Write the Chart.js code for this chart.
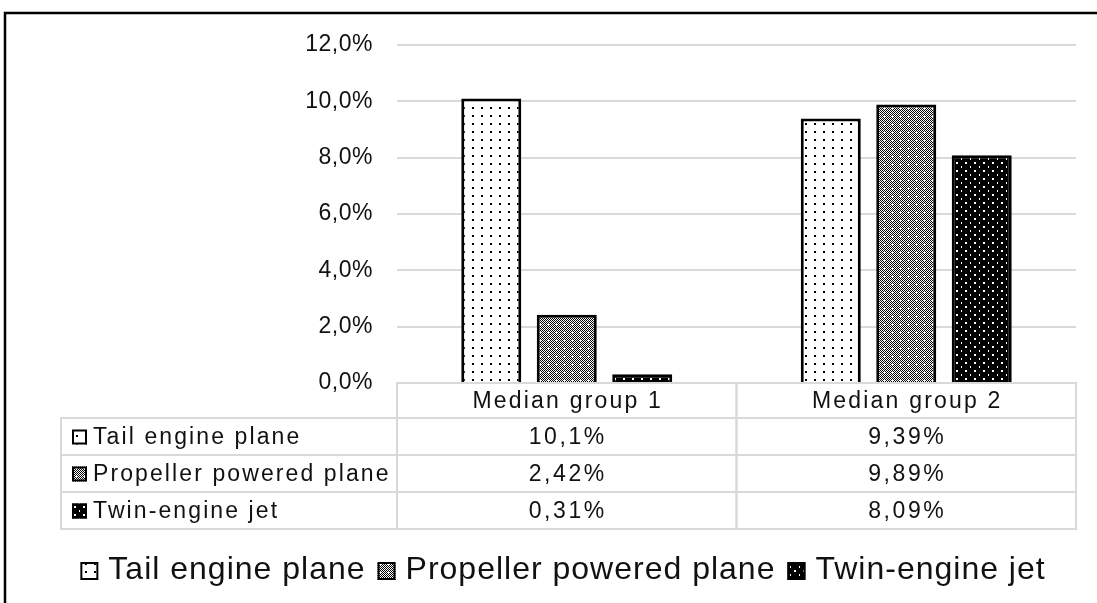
<!DOCTYPE html>
<html>
<head>
<meta charset="utf-8">
<script src="https://cdn.jsdelivr.net/npm/chart.js@4"></script>
<style>
  html, body { margin: 0; padding: 0; background: #fff; }
  canvas { display: block; }
</style>
</head>
<body>
<canvas id="chart" width="1097" height="603"></canvas>
<script>
// data
const categories = ['Median group 1', 'Median group 2'];
const seriesNames = ['Tail engine plane', 'Propeller powered plane', 'Twin-engine jet'];
const tailEngine = [10.1, 9.39];
const propeller = [2.42, 9.89];
const twinJet = [0.31, 8.09];
const yMax = 12;
const yStep = 2;

const pct = v => String(Number(v.toPrecision(3))).replace('.', ',') + '%';
const tickPct = v => v.toFixed(1).replace('.', ',') + '%';

// fill patterns, roughly like the office print patterns
function makePattern(kind) {
    const c = document.createElement('canvas');
    const g = c.getContext('2d');
    if (kind === 'dots') {
        c.width = 18; c.height = 16;
        g.fillStyle = '#fff'; g.fillRect(0, 0, 18, 16);
        g.fillStyle = '#000';
        g.fillRect(4, 3, 2, 2); g.fillRect(13, 3, 2, 2);
        g.fillRect(4, 11, 2, 2); g.fillRect(13, 11, 2, 2);
    } else if (kind === 'cross') {
        c.width = 8; c.height = 8;
        g.fillStyle = '#fff'; g.fillRect(0, 0, 8, 8);
        g.fillStyle = '#000';
        for (let y = 0; y < 8; y++) {
            for (let x = 0; x < 8; x++) {
                const d = Math.abs(x - 4) + Math.abs(y - 4);
                if (d <= 1) continue;
                if ((x + y) % 2 === 0) g.fillRect(x, y, 1, 1);
            }
        }
    } else {
        c.width = 9; c.height = 8;
        g.fillStyle = '#000'; g.fillRect(0, 0, 9, 8);
        g.fillStyle = '#fff';
        g.fillRect(2, 2, 2, 2); g.fillRect(7, 6, 1, 2);
    }
    return g.createPattern(c, 'repeat');
}

const fills = [makePattern('dots'), makePattern('cross'), makePattern('solid')];
const seriesData = [tailEngine, propeller, twinJet];

const FONT = '"Liberation Sans", Arial, sans-serif';
const TEXT = '#111';
const GRID = '#d9d9d9';

function legendBox(ctx, x, y, s, fill) {
    ctx.save();
    ctx.fillStyle = fill;
    ctx.fillRect(x, y, s, s);
    ctx.strokeStyle = '#000';
    ctx.lineWidth = 2;
    ctx.strokeRect(x + 1, y + 1, s - 2, s - 2);
    ctx.restore();
}

const tablePlugin = {
    id: 'dataTable',
    beforeDraw(chart) {
        const ctx = chart.ctx;
        ctx.save();
        ctx.fillStyle = '#fff';
        ctx.fillRect(0, 0, chart.width, chart.height);
        ctx.restore();
        ctx.letterSpacing = '0.5px';
    },
    afterDraw(chart) {
        const ctx = chart.ctx;
        const area = chart.chartArea;
        const xs = chart.scales.x;
        const half = (area.right - area.left) / categories.length / 2;
        const headTop = area.bottom;
        const headH = 35;
        const rowH = 37;
        const labelLeft = 61;

        ctx.save();
        ctx.strokeStyle = GRID;
        ctx.lineWidth = 2;

        // header cells
        categories.forEach((cat, i) => {
            const cx = xs.getPixelForTick(i);
            ctx.strokeRect(cx - half, headTop, half * 2, headH);
        });
        // data rows
        seriesNames.forEach((name, r) => {
            const top = headTop + headH + r * rowH;
            ctx.strokeRect(labelLeft, top, area.left - labelLeft, rowH);
            categories.forEach((cat, i) => {
                const cx = xs.getPixelForTick(i);
                ctx.strokeRect(cx - half, top, half * 2, rowH);
            });
        });

        ctx.fillStyle = TEXT;
        ctx.font = '23px ' + FONT;
        ctx.textBaseline = 'middle';
        ctx.textAlign = 'center';
        ctx.letterSpacing = '2.2px';
        categories.forEach((cat, i) => {
            ctx.fillText(cat, xs.getPixelForTick(i) + 1, headTop + headH / 2 + 1);
        });
        seriesNames.forEach((name, r) => {
            const mid = headTop + headH + r * rowH + rowH / 2 + 1;
            ctx.textAlign = 'center';
            ctx.fillStyle = TEXT;
            ctx.letterSpacing = '2.6px';
            seriesData[r].forEach((v, i) => {
                ctx.fillText(pct(v), xs.getPixelForTick(i) + 1, mid);
            });
            legendBox(ctx, 72, mid - 8, 15, fills[r]);
            ctx.textAlign = 'left';
            ctx.fillStyle = TEXT;
            ctx.letterSpacing = '2.1px';
            ctx.fillText(name, 93, mid);
        });

        // bottom legend
        ctx.letterSpacing = '1px';
        ctx.font = '32px ' + FONT;
        ctx.textBaseline = 'alphabetic';
        const box = 18, gap = 10, itemGap = 12;
        const widths = seriesNames.map(n => ctx.measureText(n).width);
        const total = widths.reduce((a, w) => a + box + gap + w, 0) + itemGap * (seriesNames.length - 1);
        let x = 563 - total / 2;
        const base = 579;
        seriesNames.forEach((name, r) => {
            legendBox(ctx, x, base - 17, box, fills[r]);
            x += box + gap;
            ctx.fillStyle = TEXT;
            ctx.textAlign = 'left';
            ctx.fillText(name, x, base);
            x += widths[r] + itemGap;
        });

        // outer frame of the figure
        ctx.letterSpacing = '0px';
        ctx.strokeStyle = '#000';
        ctx.lineWidth = 2.5;
        ctx.strokeRect(5, 13, 1200, 700);
        ctx.restore();
    }
};

new Chart(document.getElementById('chart'), {
    type: 'bar',
    data: {
        labels: categories,
        datasets: seriesNames.map((name, i) => ({
            label: name,
            data: seriesData[i],
            backgroundColor: fills[i],
            borderColor: '#000',
            borderWidth: 3,
            categoryPercentage: 0.667,
            barPercentage: 0.795
        }))
    },
    options: {
        responsive: false,
        devicePixelRatio: 1,
        animation: false,
        layout: { padding: { top: 45, right: 21, bottom: 220, left: 0 } },
        plugins: {
            legend: { display: false },
            tooltip: { enabled: false }
        },
        scales: {
            x: {
                display: false,
                grid: { display: false }
            },
            y: {
                min: 0,
                max: yMax,
                ticks: {
                    stepSize: yStep,
                    callback: v => tickPct(v),
                    color: TEXT,
                    font: { family: FONT, size: 23 },
                    padding: 24
                },
                grid: { color: GRID, lineWidth: 2, drawTicks: false },
                border: { display: false },
                afterFit(scale) { scale.width = 397; }
            }
        }
    },
    plugins: [tablePlugin]
});
</script>
</body>
</html>
